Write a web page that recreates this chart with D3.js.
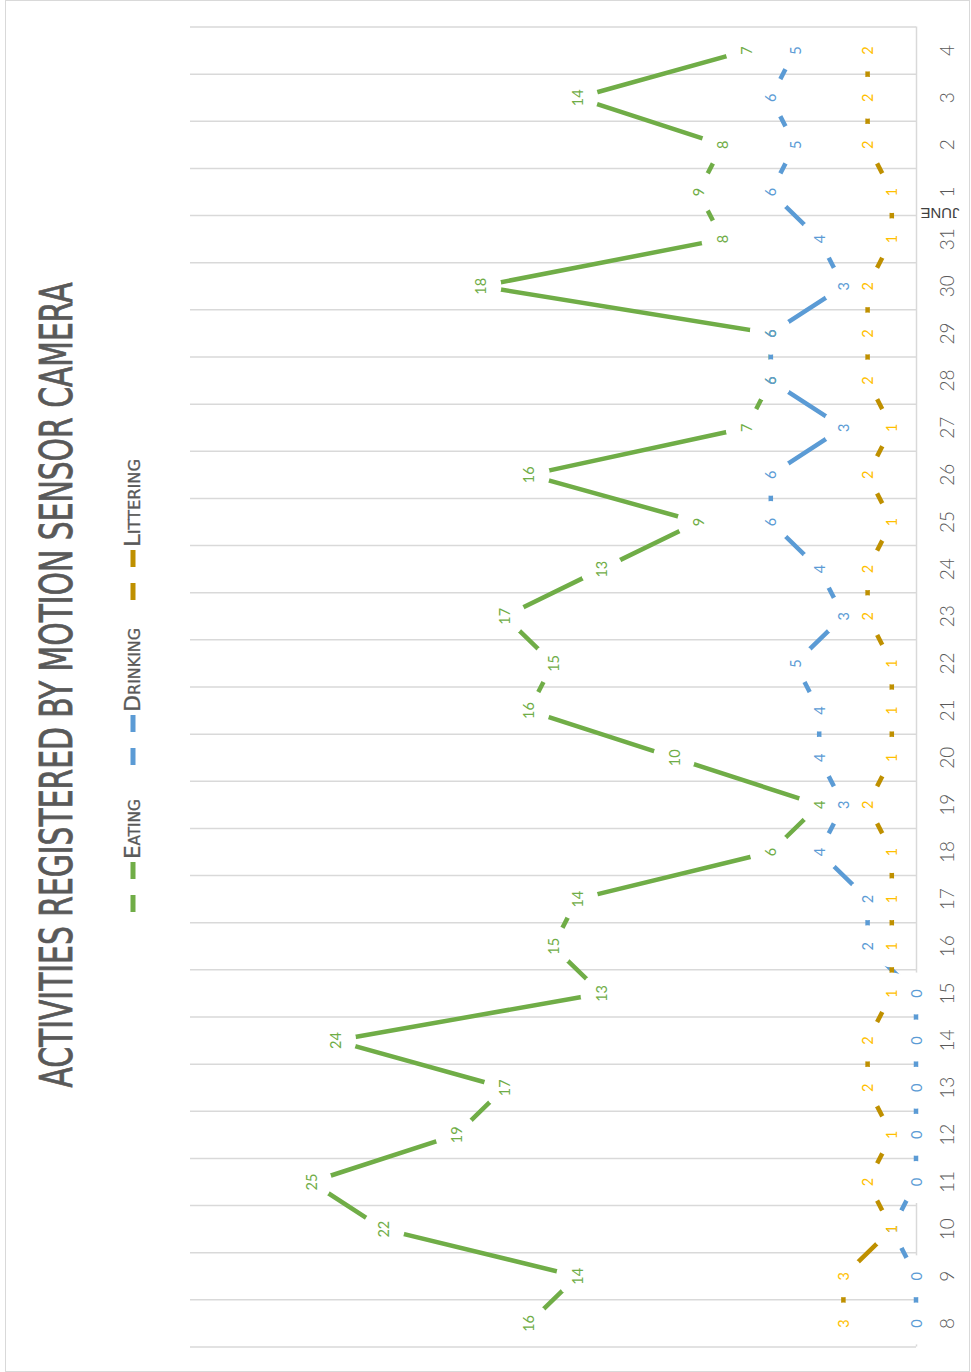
<!DOCTYPE html>
<html>
<head>
<meta charset="utf-8">
<script src="https://cdn.jsdelivr.net/npm/d3@7"></script>
<style>
  body { margin: 0; background: #fff; }
  svg { display: block; }
</style>
</head>
<body>
<svg id="chart" width="971" height="1372"></svg>
<script>
// Days from 8 May to 4 June
const dates = ["8","9","10","11","12","13","14","15","16","17","18","19","20","21",
               "22","23","24","25","26","27","28","29","30","31","1","2","3","4"];
const eating    = [16,14,22,25,19,17,24,13,15,14,6,4,10,16,15,17,13,9,16,7,6,6,18,8,9,8,14,7];
const drinking  = [0,0,1,0,0,0,0,0,2,2,4,3,4,4,5,3,4,6,6,3,6,6,3,4,6,5,6,5];
const littering = [3,3,1,2,1,2,2,1,1,1,1,2,1,1,1,2,2,1,2,1,2,2,2,1,1,2,2,2];
const seriesNames = ["Eating", "Drinking", "Littering"];
const valueDomain = [0, 30];
const titleText = "ACTIVITIES REGISTERED BY MOTION SENSOR CAMERA";
const monthLabel = "JUNE";

const W = 971, H = 1372;
const svg = d3.select("#chart");

// chart frame
svg.append("rect")
  .attr("x", 5.5).attr("y", 0.5)
  .attr("width", W - 7).attr("height", H - 1)
  .attr("fill", "#fff").attr("stroke", "#d9d9d9").attr("stroke-width", 1);

// the chart is laid out as a normal line chart and turned a quarter turn
const g = svg.append("g").attr("transform", `translate(0,${H}) rotate(-90)`);

const x = d3.scaleBand().domain(dates).range([25, 1345]).padding(0);
const y = d3.scaleLinear().domain(valueDomain).range([916, 190]);
const cx = d => x(d) + x.bandwidth() / 2;

// vertical gridlines between the days
const bounds = dates.map(d => x(d)).concat([x.range()[1]]);
g.append("g").selectAll("line").data(bounds).join("line")
  .attr("x1", d => d).attr("x2", d => d)
  .attr("y1", y(valueDomain[1])).attr("y2", y(0))
  .attr("stroke", "#d9d9d9").attr("stroke-width", 1.5);

// category axis
const axis = g.append("g").attr("transform", `translate(0,${y(0)})`)
  .call(d3.axisBottom(x).tickSize(0).tickSizeOuter(0).tickPadding(25));
axis.select(".domain").attr("stroke", "#d9d9d9").attr("stroke-width", 1.5);
axis.selectAll("text")
  .attr("font-family", "Lato, 'Open Sans', sans-serif")
  .attr("font-size", 19).attr("font-weight", 300).attr("fill", "#595959");

// month marker under the axis
g.append("text")
  .attr("transform", `translate(${(cx("31") + cx("1")) / 2 + 2},940) rotate(-90)`)
  .attr("text-anchor", "middle").attr("dominant-baseline", "central")
  .attr("font-family", "'Liberation Sans', Arial, sans-serif")
  .attr("font-size", 15).attr("fill", "#404040")
  .text(monthLabel);

const series = [
  { name: seriesNames[0], values: eating,    line: "#70AD47", label: "#70AD47" },
  { name: seriesNames[1], values: drinking,  line: "#5B9BD5", label: "#5B9BD5" },
  { name: seriesNames[2], values: littering, line: "#BF9000", label: "#FFC000" }
];

const line = d3.line().x((v, i) => cx(dates[i])).y(v => y(v));

// lines
g.append("g").selectAll("path").data(series).join("path")
  .attr("d", s => line(s.values))
  .attr("fill", "none").attr("stroke", s => s.line)
  .attr("stroke-width", 4.5).attr("stroke-linejoin", "round");

// white point markers
const markers = g.append("g");
series.forEach(s => {
  markers.append("g").selectAll("circle").data(s.values).join("circle")
    .attr("cx", (v, i) => cx(dates[i])).attr("cy", v => y(v))
    .attr("r", 21).attr("fill", "#fff");
});

// value labels centred on the points
const labels = g.append("g");
series.forEach(s => {
  labels.append("g").selectAll("text").data(s.values).join("text")
    .attr("x", (v, i) => cx(dates[i])).attr("y", v => y(v))
    .attr("text-anchor", "middle").attr("dominant-baseline", "central")
    .attr("font-family", "Lato, 'Open Sans', sans-serif")
    .attr("font-size", 14.5).attr("fill", s.label)
    .text(v => v);
});

// title
g.append("text")
  .attr("x", 687).attr("y", 72)
  .attr("text-anchor", "middle")
  .attr("font-family", "'Liberation Sans Narrow', 'DejaVu Sans Condensed', sans-serif")
  .attr("font-size", 44).attr("fill", "#595959")
  .attr("stroke", "#595959").attr("stroke-width", 0.8)
  .attr("textLength", 805).attr("lengthAdjust", "spacingAndGlyphs")
  .text(titleText);

// legend
const legendItems = [
  { s: series[0], start: 460, textLen: 60 },
  { s: series[1], start: 607, textLen: 84 },
  { s: series[2], start: 772, textLen: 88 }
];
const legend = g.append("g");
legendItems.forEach(it => {
  const sampleLen = 50, gap = 16, lv = 133;
  const seg = (sampleLen - gap) / 2;
  legend.append("line")
    .attr("x1", it.start).attr("x2", it.start + seg).attr("y1", lv).attr("y2", lv)
    .attr("stroke", it.s.line).attr("stroke-width", 5);
  legend.append("line")
    .attr("x1", it.start + seg + gap).attr("x2", it.start + sampleLen).attr("y1", lv).attr("y2", lv)
    .attr("stroke", it.s.line).attr("stroke-width", 5);
  legend.append("text")
    .attr("x", it.start + sampleLen + 3).attr("y", 140)
    .attr("font-family", "'Liberation Sans Narrow', 'DejaVu Sans Condensed', sans-serif")
    .attr("font-size", 21).attr("font-variant", "small-caps").attr("fill", "#595959")
    .attr("stroke", "#595959").attr("stroke-width", 0.3)
    .attr("textLength", it.textLen).attr("lengthAdjust", "spacingAndGlyphs")
    .text(it.s.name);
});
</script>
</body>
</html>
